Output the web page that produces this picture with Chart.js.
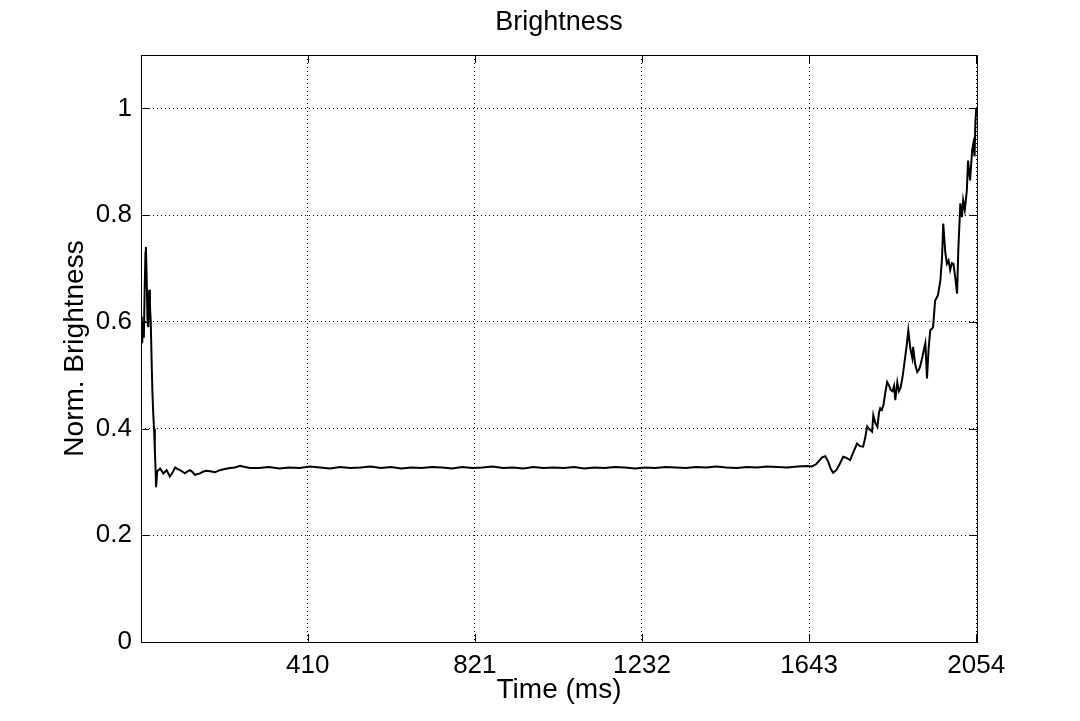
<!DOCTYPE html>
<html lang="en">
<head>
    <meta charset="UTF-8">
    <title>Brightness</title>
    <script src="https://cdn.jsdelivr.net/npm/chart.js"></script>
    <style>
        body { margin: 0; background: #fff; }
        canvas { display: block; }
    </style>
</head>
<body>
    <canvas id="brightnessChart" width="1080" height="721"></canvas>

    <script>
    // time stamps (ms) and normalized brightness
    const timeMs = [
      0, 2, 3, 5, 7, 9, 11, 12, 14, 16, 18, 20, 22, 24, 26, 28, 30, 32, 34, 36, 37, 40,
      47, 55, 63, 71, 78, 84, 90, 96, 102, 108, 115, 121, 127, 133, 139, 145, 152, 160, 170,
      182, 194, 206, 219, 231, 244, 256, 268,
      290, 315, 340, 365, 390, 415, 440, 465, 490, 515, 540, 565, 590, 615, 640, 665, 690, 715,
      740, 765, 790, 815, 840, 865, 890, 915, 940, 965, 990, 1015, 1040, 1065, 1090, 1115, 1140,
      1165, 1190, 1215, 1240, 1265, 1290, 1315, 1340, 1365, 1390, 1415, 1440, 1465, 1490, 1515,
      1540, 1565, 1590, 1615, 1640,
      1650, 1660, 1668, 1675, 1683, 1690, 1696, 1702, 1710, 1718, 1727, 1735, 1744, 1752, 1761,
      1768, 1776, 1781, 1786, 1792, 1798, 1801, 1806, 1811, 1815, 1818, 1822, 1826, 1830, 1835,
      1840, 1844, 1848, 1852, 1855, 1860, 1864, 1868, 1873, 1879, 1883, 1887, 1892, 1897, 1899,
      1904, 1909, 1913, 1916, 1922, 1926, 1929, 1933, 1937, 1941, 1945, 1948, 1953, 1960, 1966,
      1970, 1973, 1978, 1982, 1986, 1990, 1994, 1998, 2003, 2007, 2010, 2015, 2019, 2022, 2026,
      2031, 2034, 2039, 2044, 2047, 2050, 2052, 2054
    ];
    const brightness = [
      0.58, 0.61, 0.56, 0.60, 0.57, 0.66, 0.73, 0.74, 0.68, 0.60, 0.59, 0.66, 0.63, 0.60, 0.53, 0.47, 0.43, 0.40, 0.36, 0.32, 0.29, 0.32,
      0.325, 0.316, 0.322, 0.310, 0.318, 0.327, 0.324, 0.322, 0.319, 0.316, 0.320, 0.322, 0.318, 0.313, 0.315, 0.316, 0.319, 0.321, 0.320,
      0.318, 0.322, 0.324, 0.326, 0.327, 0.330, 0.328, 0.326,
      0.326, 0.328, 0.325, 0.327, 0.326, 0.329, 0.327, 0.325, 0.328, 0.326, 0.327, 0.329, 0.326, 0.328, 0.325, 0.327, 0.326, 0.328,
      0.327, 0.325, 0.328, 0.326, 0.327, 0.329, 0.326, 0.327, 0.325, 0.328, 0.326, 0.327, 0.326, 0.328, 0.325, 0.327, 0.326,
      0.328, 0.327, 0.325, 0.327, 0.326, 0.328, 0.327, 0.326, 0.328, 0.327, 0.329, 0.327, 0.326, 0.328, 0.327,
      0.329, 0.328, 0.327, 0.329, 0.330,
      0.329, 0.333, 0.340, 0.346, 0.348, 0.338, 0.325, 0.317, 0.322, 0.333, 0.347, 0.345, 0.341, 0.356, 0.372,
      0.367, 0.366, 0.383, 0.404, 0.398, 0.394, 0.425, 0.410, 0.403, 0.430, 0.438, 0.435, 0.444, 0.465, 0.487,
      0.480, 0.472, 0.470, 0.480, 0.453, 0.487, 0.470, 0.476, 0.497, 0.532, 0.555, 0.584, 0.550, 0.532, 0.553,
      0.520, 0.506, 0.510, 0.516, 0.535, 0.550, 0.560, 0.494, 0.550, 0.584, 0.587, 0.590, 0.640, 0.650, 0.678,
      0.720, 0.784, 0.730, 0.709, 0.715, 0.697, 0.710, 0.709, 0.680, 0.653, 0.734, 0.822, 0.796, 0.828, 0.810,
      0.846, 0.902, 0.865, 0.921, 0.934, 0.910, 0.972, 1.000
    ];
    const xTicks = [410, 821, 1232, 1643, 2054];
    const yTicks = [0, 0.2, 0.4, 0.6, 0.8, 1];

    const FONT = 'Liberation Sans, Arial, Helvetica, sans-serif';

    // MATLAB-like box around the plot with inward tick marks
    const boxPlugin = {
      id: 'box',
      afterDraw(chart) {
        const {ctx, chartArea: a, scales} = chart;
        ctx.save();
        ctx.strokeStyle = '#000';
        ctx.lineWidth = 1;
        ctx.strokeRect(a.left + 0.5, a.top + 0.5, a.right - a.left, a.bottom - a.top);
        ctx.beginPath();
        xTicks.forEach(v => {
          const px = Math.round(scales.x.getPixelForValue(v)) + 0.5;
          ctx.moveTo(px, a.bottom); ctx.lineTo(px, a.bottom - 8);
          ctx.moveTo(px, a.top); ctx.lineTo(px, a.top + 8);
        });
        yTicks.forEach(v => {
          const py = Math.round(scales.y.getPixelForValue(v)) + 0.5;
          ctx.moveTo(a.left, py); ctx.lineTo(a.left + 8, py);
          ctx.moveTo(a.right, py); ctx.lineTo(a.right - 8, py);
        });
        ctx.stroke();
        ctx.restore();
      }
    };

    new Chart(document.getElementById('brightnessChart'), {
      type: 'line',
      data: {
        datasets: [{
          label: 'Brightness',
          data: timeMs.map((t, i) => ({x: t, y: brightness[i]})),
          borderColor: '#000',
          borderWidth: 2,
          pointRadius: 0,
          tension: 0,
          fill: false
        }]
      },
      options: {
        responsive: false,
        animation: false,
        layout: { padding: { left: 0, right: 103, top: 0, bottom: 0 } },
        plugins: {
          legend: { display: false },
          tooltip: { enabled: false },
          title: {
            display: true,
            fullSize: false,
            text: 'Brightness',
            color: '#000',
            font: { family: FONT, size: 27, weight: 'normal' },
            padding: { top: 6, bottom: 16.6 }
          }
        },
        scales: {
          x: {
            type: 'linear',
            min: 0,
            max: 2056,
            afterBuildTicks: s => { s.ticks = xTicks.map(v => ({value: v})); },
            afterFit: s => { s.height = 79; },
            ticks: {
              color: '#000',
              padding: 8,
              maxRotation: 0,
              autoSkip: false,
              font: { family: FONT, size: 26 },
              callback: v => String(v)
            },
            grid: { color: '#000', lineWidth: 1, drawTicks: false },
            border: { display: false, dash: [1, 3] },
            title: {
              display: true,
              text: 'Time (ms)',
              color: '#000',
              font: { family: FONT, size: 28 },
              padding: { top: 0, bottom: 14 }
            }
          },
          y: {
            min: 0,
            max: 1.1,
            afterBuildTicks: s => { s.ticks = yTicks.map(v => ({value: v})); },
            afterFit: s => { s.width = 141; },
            ticks: {
              color: '#000',
              padding: 9,
              font: { family: FONT, size: 26 },
              callback: v => String(Math.round(v * 10) / 10)
            },
            grid: { color: '#000', lineWidth: 1, drawTicks: false },
            border: { display: false, dash: [1, 3] },
            title: {
              display: true,
              text: 'Norm. Brightness',
              color: '#000',
              font: { family: FONT, size: 28 },
              padding: { top: 58, bottom: 0 }
            }
          }
        }
      },
      plugins: [boxPlugin]
    });
    </script>
</body>
</html>
